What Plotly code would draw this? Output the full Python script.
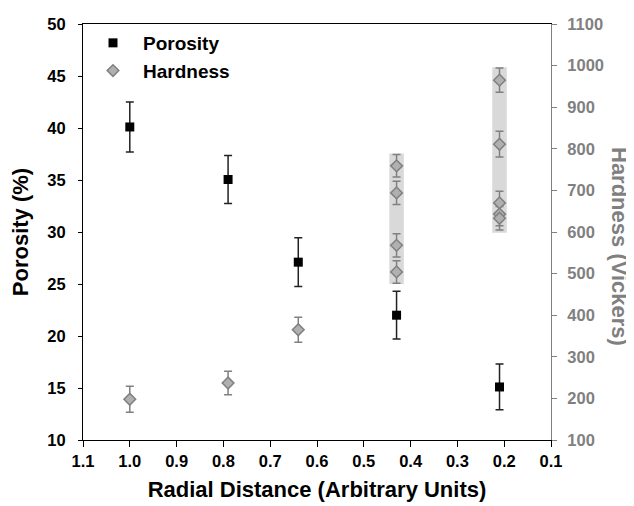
import plotly.graph_objects as go

# ---- data ----
porosity_x = [1.0, 0.79, 0.64, 0.43, 0.21]
porosity = [40.1, 35.05, 27.1, 22.0, 15.1]
porosity_err = [2.4, 2.3, 2.35, 2.3, 2.2]

hardness_x = [1.0, 0.79, 0.64, 0.43, 0.43, 0.43, 0.43, 0.21, 0.21, 0.21, 0.21, 0.21]
hardness = [198, 237, 365, 759, 694, 568, 504, 965, 811, 670, 643, 633]
hardness_err = [31, 28, 30, 27, 28, 28, 27, 29, 31, 28, 28, 28]

# shaded bands behind the clustered hardness measurements
band_x = [0.43, 0.21]
band_low = [475, 598]
band_high = [789, 996]
band_halfwidth = 0.0155

x_ticks = [1.1, 1.0, 0.9, 0.8, 0.7, 0.6, 0.5, 0.4, 0.3, 0.2, 0.1]

FONT = "Liberation Sans"
GRAY = "#808080"

fig = go.Figure()

fig.add_trace(go.Scatter(
    x=porosity_x, y=porosity, name="Porosity", mode="markers",
    marker=dict(symbol="square", size=9, color="black"),
    error_y=dict(type="data", array=porosity_err, color="#222222", thickness=1.5, width=4),
    yaxis="y",
))
fig.add_trace(go.Scatter(
    x=hardness_x, y=hardness, name="Hardness", mode="markers",
    marker=dict(symbol="diamond", size=9, color="#b0b0b0", line=dict(color=GRAY, width=1.5)),
    error_y=dict(type="data", array=hardness_err, color=GRAY, thickness=1.5, width=4),
    yaxis="y2",
))

for bx, lo, hi in zip(band_x, band_low, band_high):
    fig.add_shape(type="rect", xref="x", yref="y2",
                  x0=bx - band_halfwidth, x1=bx + band_halfwidth, y0=lo, y1=hi,
                  fillcolor="#d9d9d9", line=dict(width=0), layer="below")

fig.update_layout(
    width=626, height=498,
    margin=dict(l=75, r=83, t=16, b=66),
    paper_bgcolor="white", plot_bgcolor="white",
    font=dict(family=FONT, color="black"),
    showlegend=True,
    legend=dict(x=0.0, y=1.0, xanchor="left", yanchor="top",
                font=dict(family=FONT, size=19, color="black", weight="bold"),
                itemwidth=50, bgcolor="rgba(0,0,0,0)", tracegroupgap=0),
    xaxis=dict(
        range=[1.1, 0.1], tickvals=x_ticks, tickformat=".1f", automargin=False,
        showline=True, linecolor="black", linewidth=1, mirror=True,
        ticks="outside", ticklen=6, tickcolor="black",
        showgrid=False, zeroline=False,
        tickfont=dict(family=FONT, size=16.5, color="black", weight="bold"),
        title=dict(text="Radial Distance (Arbitrary Units)",
                   font=dict(family=FONT, size=22, color="black", weight="bold"), standoff=12),
    ),
    yaxis=dict(
        range=[10, 50], dtick=5, automargin=False,
        showline=True, linecolor="black", linewidth=1,
        ticks="outside", ticklen=4, tickcolor="black", ticklabelstandoff=9,
        showgrid=False, zeroline=False,
        tickfont=dict(family=FONT, size=16.5, color="black", weight="bold"),
        title=dict(text="Porosity (%)",
                   font=dict(family=FONT, size=22, color="black", weight="bold"), standoff=14),
    ),
    yaxis2=dict(
        range=[100, 1100], dtick=100, overlaying="y", side="right", automargin=False,
        showline=True, linecolor=GRAY, linewidth=1,
        ticks="outside", ticklen=5, tickcolor=GRAY, ticklabelstandoff=7,
        showgrid=False, zeroline=False,
        tickfont=dict(family=FONT, size=16.5, color=GRAY, weight="bold"),
    ),
    annotations=[dict(
        text="Hardness (Vickers)", xref="paper", yref="paper",
        x=1.0, y=0.5, xanchor="center", yanchor="middle",
        xshift=69, yshift=-14, textangle=90, showarrow=False,
        font=dict(family=FONT, size=22, color=GRAY, weight="bold"),
    )],
)

fig.write_html("out.html")
